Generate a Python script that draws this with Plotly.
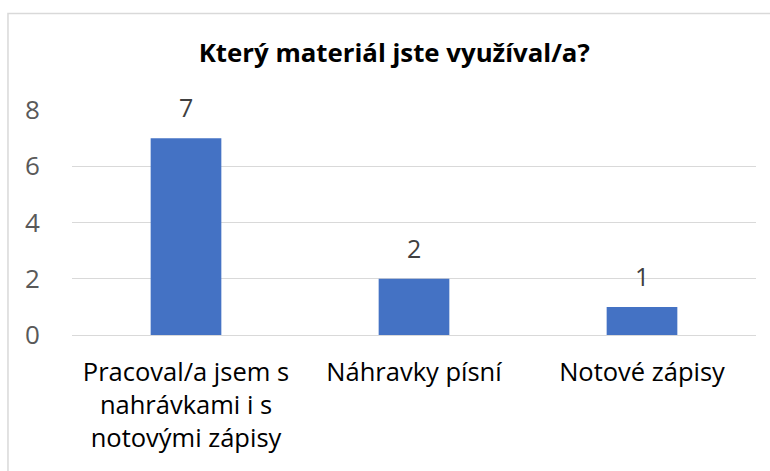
import plotly.graph_objects as go

categories = ["Pracoval/a jsem s<br>nahrávkami i s<br>notovými zápisy", "Náhravky písní", "Notové zápisy"]
values = [7, 2, 1]
y_ticks = [0, 2, 4, 6, 8]
title_text = "Který materiál jste využíval/a?"

FONT = "Open Sans"

fig = go.Figure()
fig.add_trace(go.Bar(
    x=categories, y=values,
    marker=dict(color="#4472C4", line=dict(width=0)),
    width=0.31,
    hoverinfo="skip",
))

for c, v in zip(categories, values):
    fig.add_annotation(x=c, y=v, text=str(v), showarrow=False,
                       yanchor="bottom", yshift=12,
                       font=dict(family=FONT, size=25, color="#404040"))

# chart-area border (only top and left edges fall inside the picture)
fig.add_shape(type="rect", xref="paper", yref="paper",
              x0=-0.0936, x1=1.03, y0=-0.66, y1=1.429,
              line=dict(color="#d9d9d9", width=1.5), fillcolor="rgba(0,0,0,0)", layer="below")

fig.update_layout(
    width=770, height=471,
    margin=dict(l=72, r=14, t=110, b=136),
    paper_bgcolor="white", plot_bgcolor="white",
    showlegend=False,
    title=dict(text="<b>" + title_text + "</b>", x=0.512, xanchor="center",
               y=1 - 53 / 471, yanchor="middle",
               font=dict(family=FONT, size=25.8, color="black")),
)
fig.update_yaxes(range=[0, 8], tickvals=y_ticks, showgrid=True, gridcolor="#d9d9d9", gridwidth=1,
                 zeroline=False, showline=False,
                 ticks="outside", ticklen=26, tickcolor="rgba(0,0,0,0)",
                 tickfont=dict(family=FONT, size=26, color="#595959"))
fig.update_xaxes(showgrid=False, showline=True, linecolor="#d9d9d9", linewidth=1,
                 ticks="outside", ticklen=14, tickcolor="rgba(0,0,0,0)",
                 tickfont=dict(family=FONT, size=25.5, color="#000000"))

fig.write_html("out.html", config={"displayModeBar": False},
               post_script="document.body.style.margin='0';")
